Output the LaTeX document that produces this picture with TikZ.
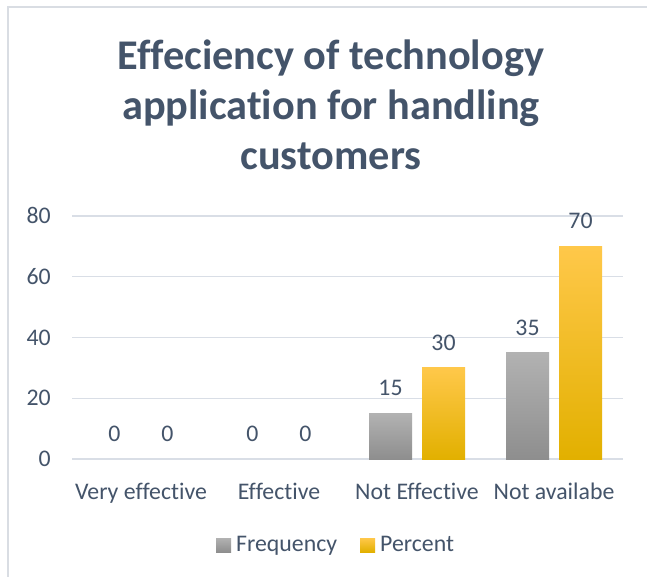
\documentclass[tikz,border=0pt]{standalone}
\usepackage{fontspec}
\setmainfont[Ligatures=NoCommon]{Carlito}
\definecolor{txt}{HTML}{44546A}
\definecolor{grid}{HTML}{D9DEE6}
\definecolor{frame}{HTML}{D9DDE3}
\definecolor{gtop}{HTML}{B2B2B2}
\definecolor{gmid}{HTML}{A3A3A3}
\definecolor{gbot}{HTML}{8E8E8E}
\definecolor{ytop}{HTML}{FFC84A}
\definecolor{ymid}{HTML}{FFC000}
\definecolor{ybot}{HTML}{E2B000}
\tikzset{
  axlbl/.style={font=\fontsize{23.8}{28}\selectfont, text=txt, inner sep=0pt},
  ttl/.style={font=\fontsize{42.3}{50}\selectfont\bfseries, text=txt, inner sep=0pt, anchor=base},
  gridline/.style={draw=grid, line width=1.4pt},
  freqbar/.style={top color=gtop, middle color=gmid, bottom color=gbot, draw=none},
  pctbar/.style={top color=ytop, middle color=ymid, bottom color=ybot, draw=none},
}
\begin{document}
\begin{tikzpicture}[x=1pt,y=-1pt]
\useasboundingbox (0,0) rectangle (647,577);
\fill[white] (0,0) rectangle (647,577);
% frame
\draw[frame, line width=1.5pt] (8,577) -- (8,7) -- (647,7);
% title
\node[ttl] (t1) at (331,70) {Effeciency of technology};
\node[ttl] (t2) at (331,120) {application for handling};
\node[ttl] (t3) at (331,170) {customers};
% grid and y labels
\foreach \v in {0,20,40,60,80}{
  \draw[gridline] (72,{459-\v*3.04}) -- (623,{459-\v*3.04});
  \node[axlbl, anchor=east] (y\v) at (51,{459-\v*3.04}) {\v};
}
% bars
\foreach \i/\cx/\f/\p in {1/141/0/0, 2/279/0/0, 3/417/15/30, 4/554/35/70}{
  \pgfmathsetmacro{\ft}{459-\f*3.04}
  \pgfmathsetmacro{\pt}{459-\p*3.04}
  \ifnum\f>0
    \path[freqbar] (\cx-48,\ft) rectangle (\cx-5,459);
    \path[pctbar] (\cx+5,\pt) rectangle (\cx+48,459);
  \fi
  \node[axlbl] (f\i) at (\cx-26.5,\ft-25) {\f};
  \node[axlbl] (p\i) at (\cx+26.5,\pt-25) {\p};
}
% category labels
\node[axlbl, anchor=base] (c1) at (141,499) {Very effective};
\node[axlbl, anchor=base] (c2) at (279,499) {Effective};
\node[axlbl, anchor=base] (c3) at (417,499) {Not Effective};
\node[axlbl, anchor=base] (c4) at (554,499) {Not availabe};
% legend
\path[freqbar] (216,538) rectangle (231,552);
\node[axlbl, anchor=base west] (lf) at (236,551) {Frequency};
\path[pctbar] (360,538) rectangle (375,552);
\node[axlbl, anchor=base west] (lp) at (380,551) {Percent};
\end{tikzpicture}
\end{document}
